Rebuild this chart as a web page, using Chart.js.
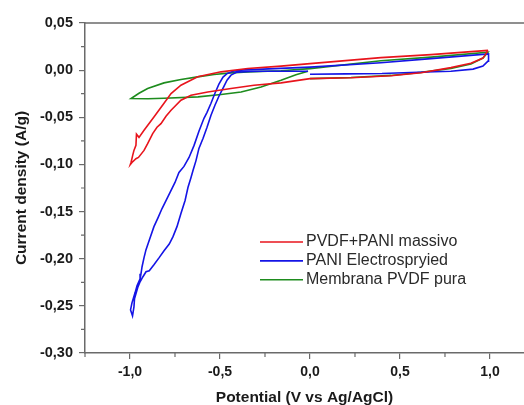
<!DOCTYPE html>
<html><head><meta charset="utf-8">
<script src="https://cdn.jsdelivr.net/npm/chart.js@4.4.1/dist/chart.umd.min.js"></script>
<style>html,body{margin:0;padding:0;background:#fff;overflow:hidden}</style>
</head><body>
<canvas id="c" width="524" height="405"></canvas>
<script>
// ---- data ----
const seriesNames = ['PVDF+PANI massivo', 'PANI Electrospryied', 'Membrana PVDF pura'];
const seriesColors = ['#e8141c', '#1414e6', '#1e8c1e'];

const redPotential = [0.989, 0.672, 0.394, 0.0, -0.161, -0.346, -0.494, -0.624, -0.717, -0.772, -0.811, -0.867, -0.922, -0.95, -0.964, -0.967, -0.978, -0.985, -0.994, -0.998,
  -0.989, -0.967, -0.953, -0.922, -0.902, -0.874, -0.85, -0.828, -0.8, -0.772, -0.717, -0.661, -0.568, -0.439, -0.311, -0.161, 0.0, 0.228, 0.45, 0.617, 0.783, 0.894, 0.961, 0.989];
const redCurrent = [0.021, 0.0165, 0.0133, 0.0069, 0.0043, 0.0018, -0.0018, -0.0071, -0.016, -0.0248, -0.0351, -0.0497, -0.0638, -0.0713, -0.068, -0.0798, -0.0851, -0.0904, -0.0976, -0.1,
  -0.0979, -0.0939, -0.0926, -0.0851, -0.078, -0.0673, -0.0606, -0.0567, -0.0489, -0.0426, -0.0319, -0.0266, -0.0231, -0.0195, -0.016, -0.0135, -0.009, -0.008, -0.0059, -0.0027, 0.0027, 0.0074, 0.0128, 0.021];

const bluePotential = [0.0, 0.2, 0.4, 0.6, 0.783, 0.906, 0.961, 0.989, 0.992,
  0.672, 0.394, 0.0, -0.261, -0.328, -0.383, -0.428, -0.461, -0.483, -0.506, -0.528, -0.55, -0.572, -0.589, -0.617, -0.644, -0.672, -0.7, -0.728, -0.75, -0.778, -0.8, -0.822, -0.844, -0.867, -0.894, -0.911, -0.922, -0.933, -0.939, -0.944, -0.961, -0.972, -0.989, -0.997, -0.986,
  -0.978, -0.975, -0.957, -0.944, -0.928, -0.911, -0.893, -0.867, -0.837, -0.811, -0.782, -0.761, -0.739, -0.717, -0.694, -0.678, -0.661, -0.65, -0.633, -0.617, -0.594, -0.572, -0.55, -0.528, -0.506, -0.483, -0.461, -0.439, -0.406, -0.328, -0.261, -0.011];
const blueCurrent = [-0.0043, -0.004, -0.0036, -0.0022, -0.0011, 0.0011, 0.0043, 0.0096, 0.0172,
  0.0122, 0.0078, 0.0032, 0.0011, 0.0005, 0.0, -0.0011, -0.0037, -0.0074, -0.0149, -0.0245, -0.0351, -0.0447, -0.0511, -0.0649, -0.0798, -0.0926, -0.1021, -0.1085, -0.1191, -0.1298, -0.1383, -0.1468, -0.1564, -0.166, -0.1809, -0.1904, -0.1989, -0.2085, -0.216, -0.2213, -0.2287, -0.2362, -0.2468, -0.2543, -0.2606,
  -0.251, -0.2426, -0.2305, -0.2245, -0.2191, -0.2138, -0.2128, -0.2064, -0.1986, -0.1915, -0.1844, -0.1766, -0.166, -0.1521, -0.1383, -0.1245, -0.1138, -0.1064, -0.0957, -0.083, -0.0723, -0.0606, -0.0479, -0.0372, -0.0277, -0.0191, -0.0106, -0.0053, -0.0021, -0.0014, -0.0011, -0.0011];

const greenPotential = [0.0, 0.228, 0.45, 0.617, 0.783, 0.894, 0.961, 0.989, 0.672, 0.394, 0.0, -0.161, -0.346, -0.439, -0.533, -0.624, -0.717, -0.811, -0.902, -0.95, -0.994,
  -0.9, -0.811, -0.622, -0.494, -0.383, -0.272, -0.161, -0.078, -0.011];
const greenCurrent = [-0.009, -0.0078, -0.0056, -0.0024, 0.0018, 0.0064, 0.0128, 0.019, 0.0138, 0.0099, 0.0016, -0.0007, -0.0018, -0.0029, -0.0046, -0.0071, -0.0099, -0.0135, -0.0195, -0.0245, -0.0301,
  -0.0303, -0.0298, -0.0284, -0.0259, -0.0231, -0.0178, -0.0106, -0.0048, -0.0011];

const xTickValues = [-1.0, -0.5, 0.0, 0.5, 1.0];
const xMinorTicks = [-1.25, -0.75, -0.25, 0.25, 0.75];
const yTickValues = [-0.30, -0.25, -0.20, -0.15, -0.10, -0.05, 0.00, 0.05];
const yMinorTicks = [-0.275, -0.225, -0.175, -0.125, -0.075, -0.025, 0.025];

// ---- chart ----
const fmt = (v, d) => Number(v).toFixed(d).replace('.', ',');
const zip = (xs, ys) => xs.map((x, i) => ({ x: x, y: ys[i] }));
const axisColor = '#6a6a6a';
const FONT = '"Liberation Sans", Arial, sans-serif';

const framePlugin = {
  id: 'frame',
  afterDraw(chart) {
    const { ctx, chartArea: a, scales: { x, y } } = chart;
    ctx.save();
    ctx.strokeStyle = axisColor;
    ctx.lineWidth = 1.5;
    ctx.beginPath();
    ctx.moveTo(a.left, a.top); ctx.lineTo(a.right, a.top);
    ctx.stroke();
    ctx.lineWidth = 1.2;
    ctx.beginPath();
    yMinorTicks.forEach(v => { const p = y.getPixelForValue(v); ctx.moveTo(a.left - 4, p); ctx.lineTo(a.left, p); });
    xMinorTicks.forEach(v => { const p = x.getPixelForValue(v); ctx.moveTo(p, a.bottom); ctx.lineTo(p, a.bottom + 4); });
    ctx.stroke();
    // legend
    ctx.font = '16px ' + FONT;
    ctx.textBaseline = 'middle';
    ctx.textAlign = 'left';
    seriesNames.forEach((n, i) => {
      const ly = 242 + i * 18.9;
      ctx.strokeStyle = seriesColors[i];
      ctx.lineWidth = 1.6;
      ctx.beginPath(); ctx.moveTo(260, ly); ctx.lineTo(303, ly); ctx.stroke();
      ctx.fillStyle = '#2a2a2a';
      ctx.fillText(n, 306, ly);
    });
    ctx.restore();
  }
};

new Chart(document.getElementById('c'), {
  type: 'scatter',
  data: {
    datasets: [
      { label: seriesNames[0], data: zip(redPotential, redCurrent), borderColor: seriesColors[0] },
      { label: seriesNames[1], data: zip(bluePotential, blueCurrent), borderColor: seriesColors[1] },
      { label: seriesNames[2], data: zip(greenPotential, greenCurrent), borderColor: seriesColors[2] }
    ].map(d => Object.assign(d, { showLine: true, pointRadius: 0, borderWidth: 1.6, tension: 0, fill: false }))
  },
  options: {
    responsive: false,
    animation: false,
    layout: { padding: { top: 23, left: 0, right: 0, bottom: 0 } },
    plugins: { legend: { display: false }, tooltip: { enabled: false } },
    scales: {
      x: {
        type: 'linear', min: -1.25, max: 1.189,
        afterBuildTicks: s => { s.ticks = xTickValues.map(v => ({ value: v })); },
        afterFit: s => { s.height = 52; },
        ticks: { callback: v => fmt(v, 1), font: { family: FONT, size: 14, weight: 'bold' }, color: '#1a1a1a', padding: 5, maxRotation: 0, autoSkip: false },
        grid: { drawOnChartArea: false, drawTicks: true, tickLength: 6, color: axisColor, lineWidth: 1.2 },
        border: { display: true, color: axisColor, width: 1.5 },
        title: { display: true, text: 'Potential (V vs Ag/AgCl)', color: '#1a1a1a', font: { family: FONT, size: 15.5, weight: 'bold', lineHeight: 1 }, padding: { top: 0, bottom: 0 } }
      },
      y: {
        type: 'linear', min: -0.30, max: 0.05,
        afterBuildTicks: s => { s.ticks = yTickValues.map(v => ({ value: v })); },
        afterFit: s => { s.width = 85; },
        ticks: { callback: v => fmt(v, 2), font: { family: FONT, size: 14.5, weight: 'bold' }, color: '#1a1a1a', padding: 6, autoSkip: false },
        grid: { drawOnChartArea: false, drawTicks: true, tickLength: 6, color: axisColor, lineWidth: 1.2 },
        border: { display: true, color: axisColor, width: 1.5 },
        title: { display: true, text: 'Current density (A/g)', color: '#1a1a1a', font: { family: FONT, size: 15.5, weight: 'bold', lineHeight: 1 }, padding: { top: 13.5, bottom: 0 } }
      }
    }
  },
  plugins: [framePlugin]
});
</script>
</body></html>
